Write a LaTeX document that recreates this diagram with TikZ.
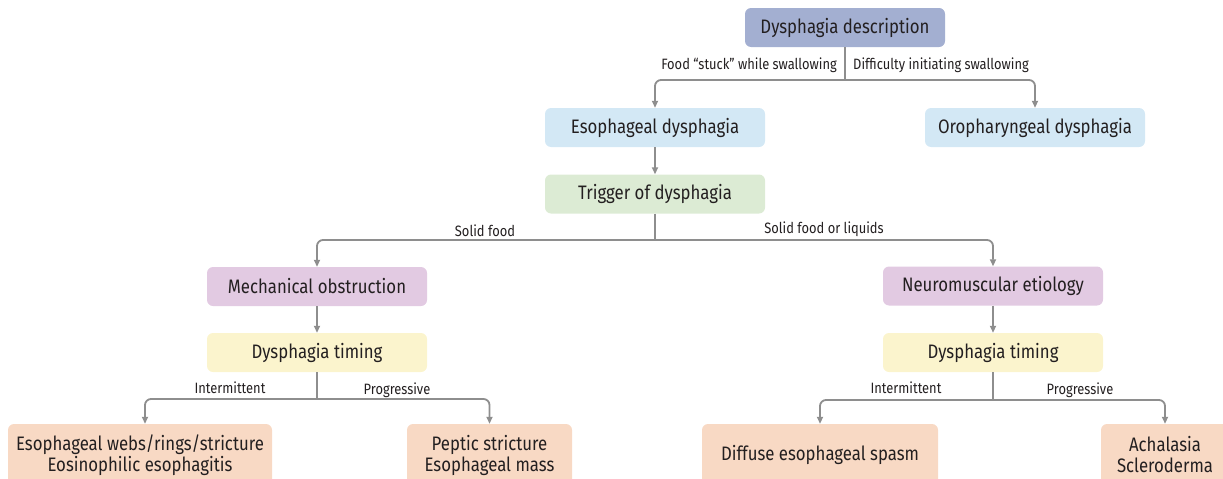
\documentclass[tikz,border=0pt]{standalone}
\usepackage{fontspec}
\setmainfont{Fira Sans}[FakeStretch=0.86]
\usetikzlibrary{arrows.meta}
\definecolor{ink}{HTML}{231F20}
\definecolor{linegrey}{HTML}{8E8E8E}
\definecolor{topfill}{HTML}{A3AFD1}
\definecolor{bluefill}{HTML}{D3E8F5}
\definecolor{greenfill}{HTML}{DCEBD4}
\definecolor{purplefill}{HTML}{E2CAE2}
\definecolor{yellowfill}{HTML}{FBF4CD}
\definecolor{peachfill}{HTML}{F8D9C4}
\tikzset{
  box/.style={rounded corners=6pt, minimum height=39pt, align=center,
    text=ink, font=\fontsize{19.5}{21}\selectfont, inner sep=0pt},
  leaf/.style={box, minimum height=62pt},
  link/.style={draw=linegrey, line width=1.8pt, rounded corners=6pt,
    -{Triangle[length=7pt,width=6pt]}},
  plain/.style={draw=linegrey, line width=1.8pt},
  lbl/.style={text=ink, font=\fontsize{15}{17}\selectfont, inner sep=0pt}
}
\begin{document}
\begin{tikzpicture}[x=1pt,y=-1pt]
\useasboundingbox (0,0) rectangle (1223,479);
% nodes
\node[box, fill=topfill, minimum width=200pt] (desc) at (845,27.5) {Dysphagia description};
\node[box, fill=bluefill, minimum width=220pt] (eso) at (655,127.5) {Esophageal dysphagia};
\node[box, fill=bluefill, minimum width=220pt] (oro) at (1035,127.5) {Oropharyngeal dysphagia};
\node[box, fill=greenfill, minimum width=220pt] (trig) at (655,194) {Trigger of dysphagia};
\node[box, fill=purplefill, minimum width=220pt] (mech) at (317,286.5) {Mechanical obstruction};
\node[box, fill=purplefill, minimum width=220pt] (neuro) at (993,286) {Neuromuscular etiology};
\node[box, fill=yellowfill, minimum width=220pt] (timeL) at (317,352.5) {Dysphagia timing};
\node[box, fill=yellowfill, minimum width=220pt] (timeR) at (993,352.5) {Dysphagia timing};
\node[leaf, fill=peachfill, minimum width=264pt] (webs) at (140,455) {Esophageal webs/rings/stricture\\Eosinophilic esophagitis};
\node[leaf, fill=peachfill, minimum width=165pt] (peptic) at (489.5,455) {Peptic stricture\\Esophageal mass};
\node[leaf, fill=peachfill, minimum width=236pt] (spasm) at (820,455) {Diffuse esophageal spasm};
\node[leaf, fill=peachfill, minimum width=128pt] (acha) at (1165,455) {Achalasia\\Scleroderma};
% split points
\coordinate (s1) at (845,80);
\coordinate (s2) at (655,240);
\coordinate (s3) at (317,399);
\coordinate (s4) at (993,400);
% connectors
\draw[plain] (desc.south) -- (s1);
\draw[link] (s1) -| (eso.north);
\draw[link] (s1) -| (oro.north);
\draw[link] (eso.south) -- (trig.north);
\draw[plain] (trig.south) -- (s2);
\draw[link] (s2) -| (mech.north);
\draw[link] (s2) -| (neuro.north);
\draw[link] (mech.south) -- (timeL.north);
\draw[link] (neuro.south) -- (timeR.north);
\draw[plain] (timeL.south) -- (s3);
\draw[link] (s3) -| ([xshift=5pt]webs.north);
\draw[link] (s3) -| (peptic.north);
\draw[plain] (timeR.south) -- (s4);
\draw[link] (s4) -| (spasm.north);
\draw[link] (s4) -| (acha.north);
% branch labels
\node[lbl, anchor=east] (l1) at (837,65) {Food “stuck” while swallowing};
\node[lbl, anchor=west] (l2) at (853,65) {Difficulty initiating swallowing};
\node[lbl] (l3) at (485,231) {Solid food};
\node[lbl] (l4) at (824,229) {Solid food or liquids};
\node[lbl] (l5) at (230,388) {Intermittent};
\node[lbl] (l6) at (397,390) {Progressive};
\node[lbl] (l7) at (906,388) {Intermittent};
\node[lbl] (l8) at (1080,390) {Progressive};
\end{tikzpicture}
\end{document}
